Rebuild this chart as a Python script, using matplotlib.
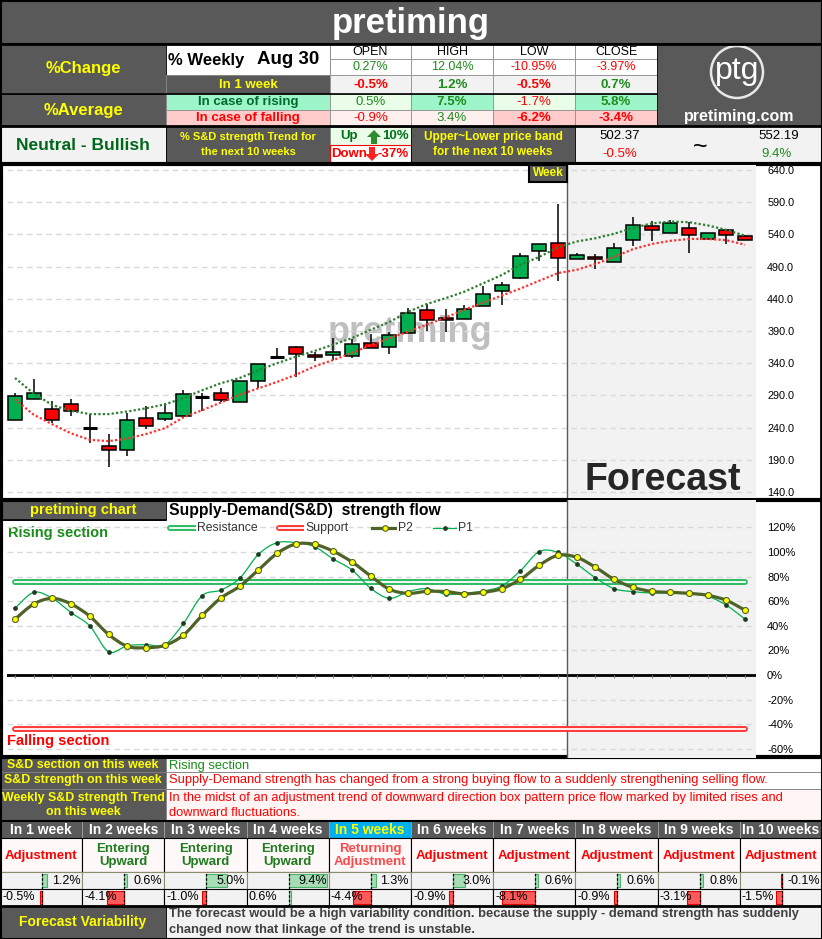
import numpy as np
import matplotlib.pyplot as plt
from matplotlib.patches import Rectangle, Polygon, Circle, PathPatch
from matplotlib.path import Path

plt.rcParams['font.family'] = ['Liberation Sans', 'DejaVu Sans']

W, H = 822, 939

# summary table
ohlc_names = ['OPEN', 'HIGH', 'LOW', 'CLOSE']
weekly_change = [0.27, 12.04, -10.95, -3.97]
change_1w = [-0.5, 1.2, -0.5, 0.7]
avg_rising = [0.5, 7.5, -1.7, 5.8]
avg_falling = [-0.9, 3.4, -6.2, -3.4]
trend_up, trend_down = 10, -37
band_low, band_high = 502.37, 552.19
band_low_pct, band_high_pct = -0.5, 9.4

# weekly candles (30 actual + 10 forecast)
opens = [251.4, 284.0, 268.9, 276.2, 240.0, 211.4, 204.7, 254.4, 254.0, 258.5,
         288.0, 293.3, 279.3, 311.9, 350.1, 364.7, 352.2, 353.3, 351.7, 371.4,
         365.7, 387.4, 422.1, 409.7, 408.2, 428.3, 451.7, 472.8, 513.7, 526.0,
         501.3, 504.4, 497.0, 530.8, 552.6, 541.7, 549.5, 533.4, 546.4, 537.0]
highs = [293.3, 315.5, 280.8, 284.4, 260.6, 229.6, 262.1, 274.1, 277.7, 298.4,
         293.3, 302.0, 311.9, 338.3, 363.2, 366.7, 357.4, 378.6, 377.0, 385.8,
         388.9, 425.7, 431.4, 423.7, 429.9, 459.4, 466.6, 511.1, 524.6, 587.8,
         510.6, 510.0, 526.2, 567.5, 561.3, 562.4, 559.3, 541.7, 546.4, 538.6]
lows = [251.4, 284.0, 247.6, 257.5, 215.6, 179.3, 196.4, 237.4, 250.7, 255.4,
        266.3, 279.3, 279.3, 301.5, 346.0, 318.0, 343.4, 345.0, 348.6, 364.1,
        354.8, 387.4, 390.5, 389.0, 408.2, 428.3, 431.0, 470.7, 499.0, 467.2,
        501.3, 485.8, 497.0, 521.5, 529.3, 541.7, 511.6, 533.4, 524.6, 530.8]
closes = [289.1, 293.3, 251.3, 265.3, 240.0, 204.7, 251.3, 243.0, 262.1, 291.7,
          288.0, 282.4, 311.9, 338.3, 350.1, 353.9, 349.1, 356.9, 369.3, 364.1,
          383.3, 417.5, 406.6, 406.6, 423.7, 447.0, 461.0, 506.0, 524.6, 503.8,
          507.5, 501.3, 518.4, 554.0, 546.4, 557.2, 538.6, 541.7, 538.6, 530.8]
upper_band = [317, 293, 275, 266, 261, 261, 265, 270, 276, 286,
              298, 309, 317, 329, 340, 350, 359, 369, 379, 392,
              404, 420, 432, 441, 451, 464, 477, 493, 505, 520,
              529, 534, 541, 550, 557, 560, 559, 554, 547, 538]
lower_band = [284, 260, 245, 231, 221, 219, 223, 230, 239, 256,
              267, 279, 291, 301, 311, 322, 335, 345, 356, 368,
              379, 389, 400, 411, 423, 434, 445, 456, 468, 480,
              485, 494, 505, 517, 525, 530, 533, 533, 531, 524]
price_ticks = [140, 190, 240, 290, 340, 390, 440, 490, 540, 590, 640]

# supply-demand strength flow (%)
p2 = [45.3, 57.7, 62.3, 57.7, 47.7, 33.0, 23.3, 22.2, 24.1, 32.5,
      48.5, 62.6, 72.1, 85.4, 98.9, 106.5, 106.2, 100.6, 91.9, 80.5,
      69.7, 66.4, 68.0, 67.8, 66.0, 67.2, 70.2, 77.8, 89.2, 97.3,
      95.7, 87.6, 77.8, 71.3, 68.0, 67.2, 66.4, 64.8, 60.7, 52.6]
p1 = [54.2, 67.2, 62.3, 50.7, 39.8, 18.9, 23.8, 24.7, 24.7, 42.0,
      64.5, 69.1, 78.6, 98.1, 107.6, 107.6, 104.3, 94.3, 85.4, 70.5,
      62.3, 67.8, 70.2, 65.6, 66.4, 68.3, 72.4, 84.8, 100.3, 99.7,
      90.2, 79.1, 70.2, 67.8, 66.7, 66.7, 66.1, 64.0, 56.7, 45.3]
resistance = 76
support = -44
sd_ticks = [-60, -40, -20, 0, 20, 40, 60, 80, 100, 120]

# weekly outlook table
week_labels = ['In 1 week', 'In 2 weeks', 'In 3 weeks', 'In 4 weeks', 'In 5 weeks',
               'In 6 weeks', 'In 7 weeks', 'In 8 weeks', 'In 9 weeks', 'In 10 weeks']
week_status = ['Adjustment', 'Entering\nUpward', 'Entering\nUpward', 'Entering\nUpward',
               'Returning\nAdjustment', 'Adjustment', 'Adjustment', 'Adjustment',
               'Adjustment', 'Adjustment']
bar_top = [1.2, 0.6, 5.0, 9.4, 1.3, 3.0, 0.6, 0.6, 0.8, -0.1]
bar_bottom = [-0.5, -4.1, -1.0, 0.6, -4.4, -0.9, -8.1, -0.9, -3.1, -1.5]

DG = '#595959'
YEL = '#FFFF00'
GRN = '#1E8C1E'
RED = '#FF0000'

fig = plt.figure(figsize=(W / 100, H / 100), dpi=100)


def place(x0, y0, x1, y1):
    return fig.add_axes([x0 / W, 1 - y1 / H, (x1 - x0) / W, (y1 - y0) / H])


base = place(0, 0, W, H)
base.set_xlim(0, W)
base.set_ylim(H, 0)
base.axis('off')


def box(x0, y0, x1, y1, fc, ec='#909090', lw=0.6, ax=None):
    (ax or base).add_patch(Rectangle((x0, y0), x1 - x0, y1 - y0, facecolor=fc,
                                     edgecolor=ec, linewidth=lw))


def label(x, y, s, color='black', size=9, bold=False, ha='center', ax=None, **kw):
    (ax or base).text(x, y, s, color=color, fontsize=size, ha=ha, va='center',
                      fontweight='bold' if bold else 'normal', **kw)


def hline(y, x0, x1, color='black', lw=2, ax=None):
    (ax or base).plot([x0, x1], [y, y], color=color, lw=lw, solid_capstyle='butt')


def vline(x, y0, y1, color='black', lw=2, ax=None):
    (ax or base).plot([x, x], [y0, y1], color=color, lw=lw, solid_capstyle='butt')


def pct(v, d=1):
    return f'{v:.{d}f}%'


def sign_col(v):
    return GRN if v > 0 else RED


# ---- header ----
box(0, 0, W, 44, DG, ec='black', lw=1.5)
label(411, 23, 'pretiming', 'white', 25, True)

box(0, 44, 166, 94, DG, ec='black')
label(83, 69, '%Change', YEL, 12, True)
box(0, 94, 166, 126, DG, ec='black')
label(83, 110, '%Average', YEL, 12, True)
box(166, 44, 330, 75, 'white', ec='black')
base.text(168, 60, '% Weekly', fontsize=12, fontweight='bold', va='center')
base.text(257, 60, 'Aug 30', fontsize=13.5, fontweight='bold', va='center')
box(166, 75, 330, 94, DG)
label(248, 85, 'In 1 week', YEL, 9.5, True)
box(166, 94, 330, 110, '#9EF5C9')
label(248, 102, 'In case of rising', '#006B2D', 9.5, True)
box(166, 110, 330, 126, '#FFCCCC')
label(248, 118, 'In case of falling', RED, 9.5, True)

cx = [330, 411, 493, 575, 657]
for k, name in enumerate(ohlc_names):
    x0, x1 = cx[k], cx[k + 1]
    xm = (x0 + x1) / 2
    box(x0, 44, x1, 59, 'white')
    label(xm, 52, name, 'black', 9)
    box(x0, 59, x1, 75, 'white')
    label(xm, 67, pct(weekly_change[k], 2), sign_col(weekly_change[k]), 9)
    box(x0, 75, x1, 94, '#F2F2F2')
    label(xm, 85, pct(change_1w[k]), sign_col(change_1w[k]), 9.5, True)
    strong = k in (1, 3)
    box(x0, 94, x1, 110, '#9EF5C9' if strong else '#E9FDE9')
    label(xm, 102, pct(avg_rising[k]), sign_col(avg_rising[k]), 9.5, strong)
    strong = k in (2, 3)
    box(x0, 110, x1, 126, '#FFCCCC' if strong else '#FFF0F0')
    label(xm, 118, pct(avg_falling[k]), sign_col(avg_falling[k]), 9.5, strong)

box(657, 44, W, 126, DG, ec='black')
base.add_patch(Circle((737, 72), 26, fill=False, ec='#E8E8E8', lw=1.8))
label(737, 71, 'ptg', 'white', 23)
label(739, 116, 'pretiming.com', 'white', 11.5, True)

box(0, 126, 166, 163, '#F2F2F2', ec='black')
label(83, 145, 'Neutral - Bullish', '#00661A', 12.5, True)
box(166, 126, 330, 163, DG, ec='black')
label(248, 137, '% S&D strength Trend for', YEL, 8, True)
label(248, 152, 'the next 10 weeks', YEL, 8, True)
box(330, 127, 411, 145, '#E9FDE9')
label(349, 136, 'Up', '#00701A', 9.5, True)
label(409, 136, f'{trend_up}%', '#00701A', 9.5, True, ha='right')
base.add_patch(Polygon([(374, 130), (381, 137), (377, 137), (377, 144), (371, 144),
                        (371, 137), (367, 137)], fc='#2E8B2E', ec='none'))
box(330, 145, 411, 163, 'white', ec=RED, lw=0.8)
label(349, 154, 'Down', RED, 9.5, True)
label(409, 154, f'{trend_down}%', RED, 9.5, True, ha='right')
base.add_patch(Polygon([(372, 161), (379, 154), (375, 154), (375, 147), (369, 147),
                        (369, 154), (365, 154)], fc='#FF2020', ec='none'))
box(411, 126, 575, 163, DG, ec='black')
label(493, 137, 'Upper~Lower price band', YEL, 8.5, True)
label(493, 152, 'for the next 10 weeks', YEL, 8.5, True)
box(575, 126, W, 163, '#F2F2F2', ec='black')
label(620, 136, f'{band_low:.2f}', 'black', 9.5)
label(620, 154, pct(band_low_pct), RED, 9.5)
label(700, 147, '~', 'black', 18)
label(779, 136, f'{band_high:.2f}', 'black', 9.5)
label(776, 154, pct(band_high_pct), GRN, 9.5)

hline(44, 0, W)
hline(94, 0, 657, lw=1.2)
hline(126, 0, W)

# ---- candle chart ----
idx = np.arange(len(opens))
x_lim = (-0.427, 39.58)

ax1 = place(7, 165, 756, 498)
ax1.set_facecolor('none')
ax1.set_xlim(*x_lim)
ax1.set_ylim(130.7, 647.8)
for s in ax1.spines.values():
    s.set_visible(False)
ax1.set_xticks([])
ax1.set_yticks(price_ticks)
ax1.set_yticklabels([f'{v:.1f}' for v in price_ticks])
ax1.yaxis.tick_right()
ax1.tick_params(axis='y', length=0, pad=8, labelsize=7.8)
ax1.grid(axis='y', color='#D9D9D9', ls=(0, (4, 3)), lw=1)
ax1.axvspan(29.5, x_lim[1], color='#F2F2F2', lw=0, zorder=0.8)
ax1.axvline(29.5, color='#595959', lw=1, zorder=2)

ax1.plot(idx, upper_band, color='#2E7D32', lw=1.6, ls=(0, (1, 1)), zorder=5)
ax1.plot(idx, lower_band, color='#FF3030', lw=1.6, ls=(0, (1, 1)), zorder=5)

for i in idx:
    o, h, l, c = opens[i], highs[i], lows[i], closes[i]
    ax1.vlines(i, l, h, color='black', lw=1.1, zorder=3)
    if abs(c - o) < 0.5:
        ax1.hlines(o, i - 0.38, i + 0.38, color='black', lw=2.2, zorder=4)
    else:
        col = '#00B050' if c > o else '#FF0000'
        ax1.add_patch(Rectangle((i - 0.375, min(o, c)), 0.75, abs(c - o), fc=col,
                                ec='black', lw=1.1, zorder=4))

label(410, 333, 'pretiming', '#BFBFBF', 26, True)

# ---- S&D chart ----
ax2 = place(7, 500, 756, 758)
ax2.set_facecolor('none')
ax2.set_xlim(*x_lim)
ax2.set_ylim(-67.5, 142.3)
for s in ax2.spines.values():
    s.set_visible(False)
ax2.set_xticks([])
ax2.set_yticks(sd_ticks)
ax2.set_yticklabels([f'{v}%' for v in sd_ticks])
ax2.yaxis.tick_right()
ax2.tick_params(axis='y', length=0, pad=8, labelsize=8)
ax2.grid(axis='y', color='#D9D9D9', ls=(0, (4, 3)), lw=1)
ax2.axvspan(29.5, x_lim[1], color='#F2F2F2', lw=0, zorder=0.8)
ax2.axhline(0, color='black', lw=2, zorder=2)
ax2.vlines(idx, -2.2, 0, color='#808080', lw=0.8, zorder=2)
ax2.axvline(29.5, color='#595959', lw=1, zorder=2)

for lvl, col in [(resistance, '#33BB66'), (support, '#FF3B3B')]:
    ax2.plot([0, 39], [lvl, lvl], color=col, lw=4.3, solid_capstyle='round', zorder=3)
    ax2.plot([0, 39], [lvl, lvl], color='white', lw=1.3, zorder=3.1)


def smooth(ax, xs, ys, **kw):
    pts = np.column_stack([xs, ys]).astype(float)
    n = len(pts)
    verts = [pts[0]]
    codes = [Path.MOVETO]
    for k in range(n - 1):
        p0 = pts[max(k - 1, 0)]
        p3 = pts[min(k + 2, n - 1)]
        verts += [pts[k] + (pts[k + 1] - p0) / 6, pts[k + 1] - (p3 - pts[k]) / 6, pts[k + 1]]
        codes += [Path.CURVE4] * 3
    ax.add_patch(PathPatch(Path(verts, codes), fill=False, **kw))


smooth(ax2, idx, p1, ec='#00B050', lw=0.9, zorder=4)
ax2.plot(idx, p1, 'o', ms=2.4, color='#1F3A1F', zorder=4.5)
smooth(ax2, idx, p2, ec='#4F6228', lw=2.3, zorder=5)
ax2.plot(idx, p2, 'o', ms=4.3, mfc=YEL, mec='#4F6228', mew=0.8, zorder=5.5)

box(0, 500, 166, 520, DG, ec='black')
label(83, 510, 'pretiming chart', YEL, 10.5, True)
base.text(169, 510, 'Supply-Demand(S&D)  strength flow', fontsize=11.3,
          fontweight='bold', va='center')
label(8, 533, 'Rising section', '#1A8C1A', 10.5, True, ha='left')
label(7, 741, 'Falling section', RED, 10.5, True, ha='left')

# frames
vline(1, 163, 757, lw=3)
vline(820.5, 163, 757, lw=2)
hline(163.5, 0, W, lw=3)
hline(499.5, 0, W, lw=3)
hline(520, 0, 166, lw=1.2)
hline(756.5, 0, W, lw=3)

# ---- bottom table ----
rows = [('S&D section on this week', 757, 772, 'white',
         ['Rising section'], '#1A8C1A'),
        ('S&D strength on this week', 772, 789, 'white',
         ['Supply-Demand strength has changed from a strong buying flow to a suddenly strengthening selling flow.'], RED),
        ('Weekly S&D strength Trend\non this week', 789, 821, '#FFF5F5',
         ['In the midst of an adjustment trend of downward direction box pattern price flow marked by limited rises and',
          'downward fluctuations.'], RED)]
for name, y0, y1, fc, lines, col in rows:
    box(0, y0, 166, y1, DG, ec='#808080')
    label(83, (y0 + y1) / 2, name, YEL, 8.9, True, linespacing=1.15)
    box(166, y0, W, y1, fc, ec='#808080')
    for j, s in enumerate(lines):
        label(169, y0 + 8.5 + j * 15, s, col, 9.3, ha='left')

cw = W / 10
for k in range(10):
    x0 = k * cw
    xm = x0 + cw / 2
    hfc = '#00B0F0' if k == 4 else DG
    box(x0, 821, x0 + cw, 838, hfc, ec='#A0A0A0')
    label(xm, 830, week_labels[k], YEL if k == 4 else 'white', 10, True)
    box(x0, 838, x0 + cw, 872, '#FFF8F8', ec='black', lw=0.8)
    st = week_status[k]
    col = '#1E7B1E' if st.startswith('Entering') else ('#FF4848' if st.startswith('Returning') else RED)
    label(xm, 855.5, st, col, 9.5, True, linespacing=1.1)
    box(x0, 872, x0 + cw, 889, '#F2F2F2', ec='#8C8C6E', lw=0.8)
    box(x0, 889, x0 + cw, 906, '#F2F2F2', ec='black', lw=0.8)

box(0, 906, 166, 939, DG, ec='black')
label(83, 922, 'Forecast Variability', YEL, 10, True)
box(166, 906, W, 939, '#F2F2F2', ec='black')
label(169, 914, 'The forecast would be a high variability condition. because the supply - demand strength has suddenly',
      '#404040', 9.3, True, ha='left')
label(169, 930, 'changed now that linkage of the trend is unstable.', '#404040', 9.3, True, ha='left')
hline(821, 0, W, lw=1.5)
hline(906, 0, W, lw=2)
base.add_patch(Rectangle((0.5, 0.5), W - 1, H - 1, fill=False, ec='black', lw=1.5))

# data bars of the outlook table
bar_scale = 4.1  # pixels per percent
for k in range(10):
    x0 = k * cw
    for vals, y0, y1 in [(bar_top, 872, 889), (bar_bottom, 889, 906)]:
        bax = place(x0, y0 + 0.5, x0 + cw, y1 - 0.5)
        bax.set_facecolor('none')
        bax.set_xlim(-42 / bar_scale, (cw - 42) / bar_scale)
        bax.set_ylim(0, 1)
        bax.axis('off')
        v = vals[k]
        if v > 0:
            bax.barh(0.5, v, height=0.8, color='#A6DDB5', edgecolor='#4DB36B', lw=0.8)
        else:
            bax.barh(0.5, v, height=0.8, color='#FF5A5A', edgecolor='#E00000', lw=0.8)
        bax.axvline(0, color='black', ls=(0, (2, 1.5)), lw=0.9)

# ---- overlay ----
over = place(0, 0, W, H)
over.set_xlim(0, W)
over.set_ylim(H, 0)
over.axis('off')
over.patch.set_visible(False)
box(529, 165, 567, 182, DG, ec='black', lw=1.5, ax=over)
label(548, 173.5, 'Week', YEL, 8.5, True, ax=over)
label(663, 480, 'Forecast', '#262626', 27, True, ax=over)

for k in range(10):
    x0 = k * cw
    label(x0 + cw - 2, 880.5, pct(bar_top[k]), 'black', 9, ha='right', ax=over)
    label(x0 + 2, 897.5, pct(bar_bottom[k]), 'black', 9, ha='left', ax=over)

# legend of the S&D chart
for x0, x1, col in [(170, 196, '#33BB66'), (279, 304, '#FF3B3B')]:
    over.plot([x0, x1], [528, 528], color=col, lw=4.3, solid_capstyle='round')
    over.plot([x0, x1], [528, 528], color='white', lw=1.3)
over.plot([372, 397], [528, 528], color='#4F6228', lw=2.3)
over.plot([384.5], [528], 'o', ms=4, mfc=YEL, mec='#4F6228', mew=0.8)
over.plot([433, 457], [528, 528], color='#00B050', lw=0.9)
over.plot([445], [528], 'o', ms=2.4, color='#1F3A1F')
for x, s in [(197, 'Resistance'), (305, 'Support'), (398, 'P2'), (458, 'P1')]:
    over.text(x, 528, s, color='#333333', fontsize=8.8, ha='left', va='center',
              bbox=dict(boxstyle='square,pad=0.05', fc='white', ec='none'))

fig.savefig('out.png', dpi=100)
